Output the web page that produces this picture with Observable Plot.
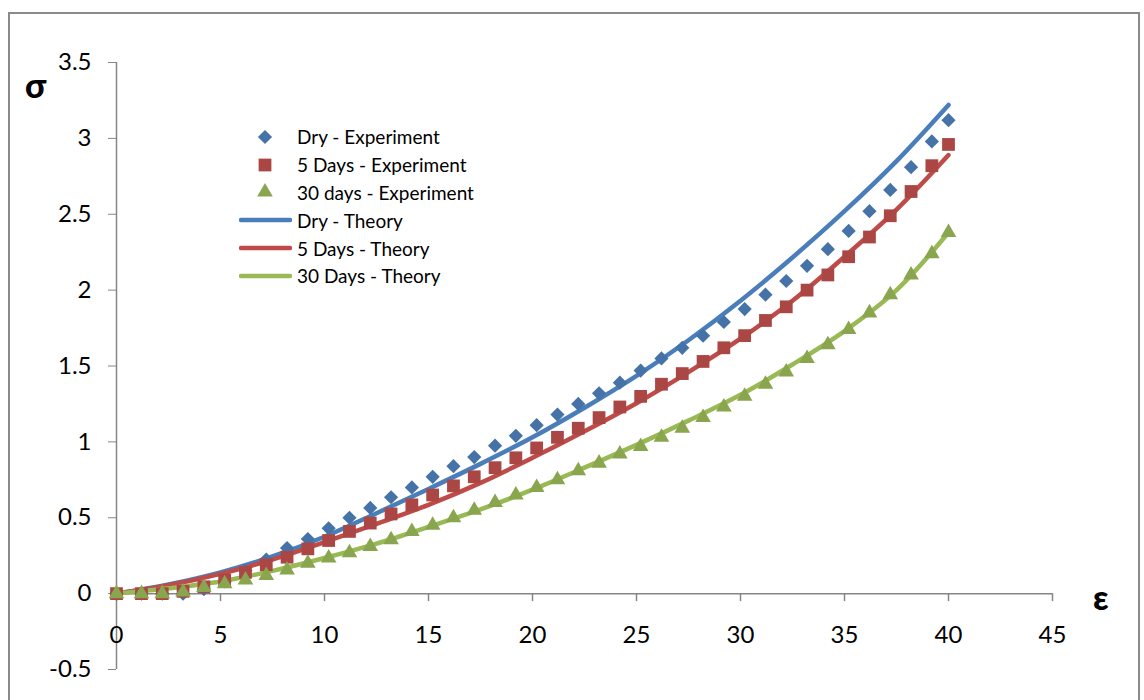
<!DOCTYPE html>
<html>
<head>
<meta charset="utf-8">
<script src="https://cdn.jsdelivr.net/npm/d3@7"></script>
<script src="https://cdn.jsdelivr.net/npm/@observablehq/plot@0.6"></script>
<style>
  body { margin: 0; background: #fff; font-family: Lato, "Open Sans", sans-serif; }
  #wrap { position: relative; width: 1144px; height: 700px; overflow: hidden; background: #fff; }
  #frame { position: absolute; left: 8px; top: 12px; width: 1132px; height: 740px; border: 2px solid #8a8a8a; box-sizing: border-box; }
  #chart { position: absolute; left: 0; top: 0; }
  .axis-title { position: absolute; font-weight: 900; font-size: 34px; line-height: 34px; color: #000; }
  #legend { position: absolute; left: 239px; top: 123px; }
  .row { display: flex; align-items: center; height: 27.8px; font-size: 19px; color: #000; }
  .row svg { width: 53px; height: 20px; margin-right: 5px; flex: none; }
</style>
</head>
<body>
<div id="wrap">
  <div id="frame"></div>
  <div id="chart"></div>
  <div class="axis-title" id="sigma" style="left:25px; top:68px;">σ</div>
  <div class="axis-title" id="eps" style="left:1093px; top:580px;">ε</div>
  <div id="legend"></div>
</div>
<script>
// Strain values at which the specimens were measured
const strain = [0, 1.2, 2.2, 3.2, 4.2, 5.2, 6.2, 7.2, 8.2, 9.2, 10.2, 11.2, 12.2, 13.2, 14.2,
  15.2, 16.2, 17.2, 18.2, 19.2, 20.2, 21.2, 22.2, 23.2, 24.2, 25.2, 26.2, 27.2, 28.2, 29.2,
  30.2, 31.2, 32.2, 33.2, 34.2, 35.2, 36.2, 37.2, 38.2, 39.2, 40];

// Measured stress
const dryExp = [0, 0, 0, 0, 0.03, 0.08, 0.15, 0.225, 0.30, 0.36, 0.43, 0.50, 0.565, 0.635, 0.70,
  0.77, 0.84, 0.90, 0.975, 1.04, 1.11, 1.18, 1.25, 1.32, 1.39, 1.47, 1.55, 1.62, 1.70, 1.79,
  1.875, 1.97, 2.06, 2.16, 2.27, 2.39, 2.52, 2.66, 2.81, 2.98, 3.12];
const days5Exp = [0, 0, 0, 0.015, 0.045, 0.09, 0.14, 0.19, 0.24, 0.295, 0.35, 0.41, 0.465, 0.525, 0.585,
  0.65, 0.71, 0.77, 0.83, 0.895, 0.96, 1.03, 1.09, 1.16, 1.23, 1.30, 1.38, 1.45, 1.53, 1.62,
  1.70, 1.80, 1.89, 2.00, 2.10, 2.22, 2.35, 2.49, 2.65, 2.82, 2.96];
const days30Exp = [0, 0, 0, 0.01, 0.04, 0.065, 0.09, 0.12, 0.155, 0.20, 0.235, 0.27, 0.31, 0.355, 0.41,
  0.45, 0.50, 0.55, 0.60, 0.65, 0.70, 0.75, 0.81, 0.86, 0.92, 0.97, 1.03, 1.09, 1.16, 1.23,
  1.30, 1.38, 1.46, 1.55, 1.64, 1.74, 1.85, 1.97, 2.10, 2.24, 2.38];

// Theoretical curves
const theoryStrain = [0, 2.5, 5, 7.5, 10, 12.5, 15, 17.5, 20, 22.5, 25, 27.5, 30, 32.5, 35, 37.5, 40];
const dryTheory = [0, 0.06, 0.14, 0.245, 0.375, 0.53, 0.69, 0.855, 1.03, 1.225, 1.435, 1.67, 1.93, 2.215, 2.52, 2.85, 3.22];
const days5Theory = [0, 0.055, 0.13, 0.225, 0.34, 0.46, 0.585, 0.73, 0.895, 1.07, 1.255, 1.46, 1.68, 1.93, 2.22, 2.53, 2.89];
const days30Theory = [0, 0.035, 0.08, 0.15, 0.235, 0.33, 0.44, 0.555, 0.685, 0.83, 0.98, 1.14, 1.31, 1.51, 1.73, 2.0, 2.38];

// Axis ticks
const xTicks = [0, 5, 10, 15, 20, 25, 30, 35, 40, 45];
const yTicks = [-0.5, 0, 0.5, 1, 1.5, 2, 2.5, 3, 3.5];

// Series names and styles
const expNames = ["Dry - Experiment", "5 Days - Experiment", "30 days - Experiment"];
const theoryNames = ["Dry - Theory", "5 Days - Theory", "30 Days - Theory"];
const markerColors = ["#4572A7", "#AA4643", "#89A54E"];
const lineColors = ["#4A7EBB", "#BE4B48", "#98B954"];
const symbols = ["diamond2", "square", "triangle"];
const radii = [6.4, 7.2, 5.8];

const expSeries = [dryExp, days5Exp, days30Exp];
const theorySeries = [dryTheory, days5Theory, days30Theory];

const expRows = expSeries.map(vals => vals.map((v, i) => ({x: strain[i], y: v})));
const theoryRows = theorySeries.map(vals => vals.map((v, i) => ({x: theoryStrain[i], y: v})));

const axisGrey = "#868686";
const tickFont = 24;

const marks = [
  // y axis line at strain 0 and x axis line at stress 0
  Plot.ruleX([0], {y1: -0.5, y2: 3.5, stroke: axisGrey, strokeWidth: 1.5}),
  Plot.ruleY([0], {x1: 0, x2: 45, stroke: axisGrey, strokeWidth: 1.5}),
  Plot.axisY(yTicks, {tickSize: 8, tickPadding: 17, stroke: axisGrey, fill: "#000", label: null,
    tickFormat: d => String(d), fontSize: tickFont}),
  // x ticks hang below the zero line
  Plot.ruleX(xTicks, {x: d => d, y1: 0, y2: 0, insetBottom: -8, stroke: axisGrey, strokeWidth: 1.5}),
  Plot.text(xTicks, {x: d => d, y: 0, dy: 42, text: d => String(d), fontSize: tickFont, fill: "#000"})
];

theoryRows.forEach((rows, k) => {
  marks.push(Plot.line(rows, {x: "x", y: "y", stroke: lineColors[k], strokeWidth: 4.5,
    curve: "catmull-rom", strokeLinecap: "round"}));
});
expRows.forEach((rows, k) => {
  marks.push(Plot.dot(rows, {x: "x", y: "y", symbol: symbols[k], r: radii[k],
    fill: markerColors[k], stroke: "none"}));
});

const chart = Plot.plot({
  width: 1144,
  height: 700,
  marginLeft: 116,
  marginRight: 92,
  marginTop: 62,
  marginBottom: 31,
  x: {domain: [0, 45], axis: null},
  y: {domain: [-0.5, 3.5], axis: null},
  style: {fontFamily: "Lato, 'Open Sans', sans-serif", color: "#000", background: "transparent"},
  marks
});
document.getElementById("chart").appendChild(chart);

// Legend
const legend = document.getElementById("legend");
const symbolTypes = [d3.symbolDiamond2, d3.symbolSquare, d3.symbolTriangle];
expNames.forEach((name, k) => {
  const row = document.createElement("div");
  row.className = "row";
  const path = d3.symbol(symbolTypes[k], Math.PI * radii[k] * radii[k])();
  row.innerHTML = `<svg viewBox="0 0 53 20"><path transform="translate(26,10)" d="${path}" fill="${markerColors[k]}"/></svg><span>${name}</span>`;
  legend.appendChild(row);
});
theoryNames.forEach((name, k) => {
  const row = document.createElement("div");
  row.className = "row";
  row.innerHTML = `<svg viewBox="0 0 53 20"><line x1="2" x2="51" y1="10" y2="10" stroke="${lineColors[k]}" stroke-width="4.5" stroke-linecap="round"/></svg><span>${name}</span>`;
  legend.appendChild(row);
});
</script>
</body>
</html>
